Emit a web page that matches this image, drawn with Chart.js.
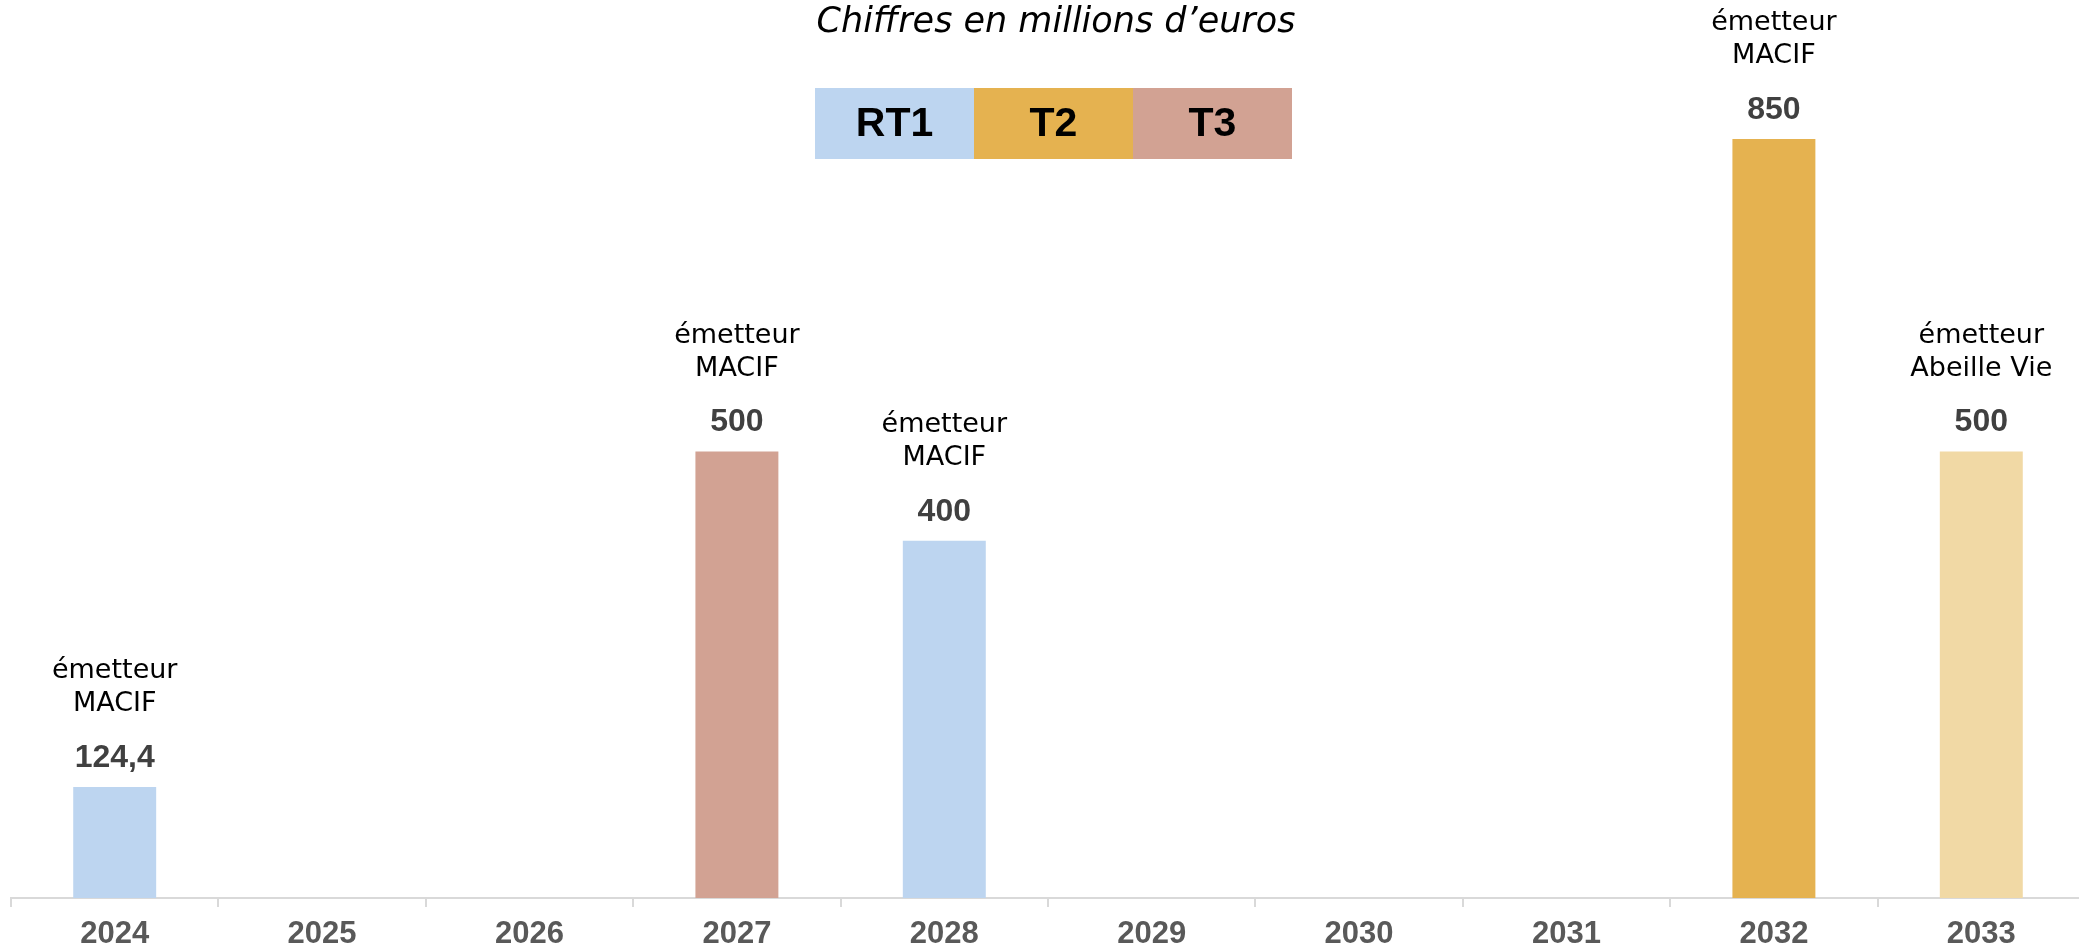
<!DOCTYPE html>
<html lang="fr">
<head>
<meta charset="utf-8">
<title>Échéancier des dettes subordonnées</title>
<script src="https://cdn.jsdelivr.net/npm/chart.js@4.4.1/dist/chart.umd.min.js"></script>
<style>
  html, body { margin: 0; padding: 0; background: #fff; overflow: hidden; }
  #chart { display: block; }
</style>
</head>
<body>
<canvas id="chart" width="2085" height="945"></canvas>
<script>
// years of first call / maturity
const years = ['2024', '2025', '2026', '2027', '2028', '2029', '2030', '2031', '2032', '2033'];
// amounts in millions of euros
const amounts = [124.4, null, null, 500, 400, null, null, null, 850, 500];
const tranches = ['RT1', null, null, 'T3', 'RT1', null, null, null, 'T2', 'T2'];
const issuers = ['MACIF', null, null, 'MACIF', 'MACIF', null, null, null, 'MACIF', 'Abeille Vie'];
const legendLabels = ['RT1', 'T2', 'T3'];
const subtitle = 'Chiffres en millions d\u2019euros';

const palette = { RT1: '#BDD5F0', T2: '#E5B250', T3: '#D2A293' };
const palePalette = { RT1: '#DCE8F6', T2: '#F1D9A5', T3: '#E6CABF' };

function barColor(i) {
  const t = tranches[i];
  if (!t) return 'rgba(0,0,0,0)';
  return issuers[i] === 'MACIF' ? palette[t] : palePalette[t];
}

const frNumber = v => String(v).replace('.', ',');

const annotations = {
  id: 'annotations',
  afterDatasetsDraw(chart) {
    const ctx = chart.ctx;
    const meta = chart.getDatasetMeta(0);
    ctx.save();
    ctx.textAlign = 'center';
    ctx.textBaseline = 'middle';
    meta.data.forEach((bar, i) => {
      const v = amounts[i];
      if (v == null) return;
      ctx.fillStyle = '#404040';
      ctx.font = 'bold 32px "Liberation Sans", Arial, sans-serif';
      ctx.fillText(frNumber(v), bar.x, bar.y - 29);
      ctx.fillStyle = '#000';
      ctx.font = '27px "DejaVu Sans", sans-serif';
      ctx.fillText('\u00e9metteur', bar.x, bar.y - 116);
      ctx.fillText(issuers[i], bar.x, bar.y - 83);
    });
    ctx.restore();
  }
};

const header = {
  id: 'header',
  afterDraw(chart) {
    const ctx = chart.ctx;
    ctx.save();
    ctx.textAlign = 'center';
    ctx.textBaseline = 'alphabetic';
    ctx.fillStyle = '#000';
    ctx.font = 'oblique 35px "DejaVu Sans", sans-serif';
    ctx.fillText(subtitle, 1056, 32);

    const boxW = 159, boxH = 71, left = 815, top = 88;
    ctx.textBaseline = 'middle';
    ctx.font = 'bold 41px "Liberation Sans", Arial, sans-serif';
    legendLabels.forEach((lab, i) => {
      const x = left + i * boxW;
      ctx.fillStyle = palette[lab];
      ctx.fillRect(x, top, boxW, boxH);
      ctx.fillStyle = '#000';
      ctx.fillText(lab, x + boxW / 2, top + boxH / 2 + 1);
    });
    ctx.restore();
  }
};

new Chart(document.getElementById('chart'), {
  type: 'bar',
  data: {
    labels: years,
    datasets: [{
      data: amounts,
      backgroundColor: years.map((_, i) => barColor(i)),
      borderWidth: 0,
      barPercentage: 0.4,
      categoryPercentage: 1
    }]
  },
  options: {
    responsive: false,
    animation: false,
    devicePixelRatio: 1,
    layout: { padding: { top: 5, left: 11, right: 0, bottom: -17 } },
    plugins: {
      legend: { display: false },
      title: { display: false },
      tooltip: { enabled: false }
    },
    scales: {
      x: {
        grid: {
          offset: true,
          drawOnChartArea: false,
          drawTicks: true,
          tickLength: 9,
          color: '#D9D9D9',
          lineWidth: 2
        },
        border: { display: true, color: '#D9D9D9', width: 2 },
        ticks: {
          autoSkip: false,
          maxRotation: 0,
          padding: 12,
          color: '#595959',
          font: { family: '"Liberation Sans", Arial, sans-serif', size: 31, weight: 'bold', lineHeight: 1 }
        }
      },
      y: {
        display: false,
        min: 0,
        max: 1000
      }
    }
  },
  plugins: [annotations, header]
});
</script>
</body>
</html>
